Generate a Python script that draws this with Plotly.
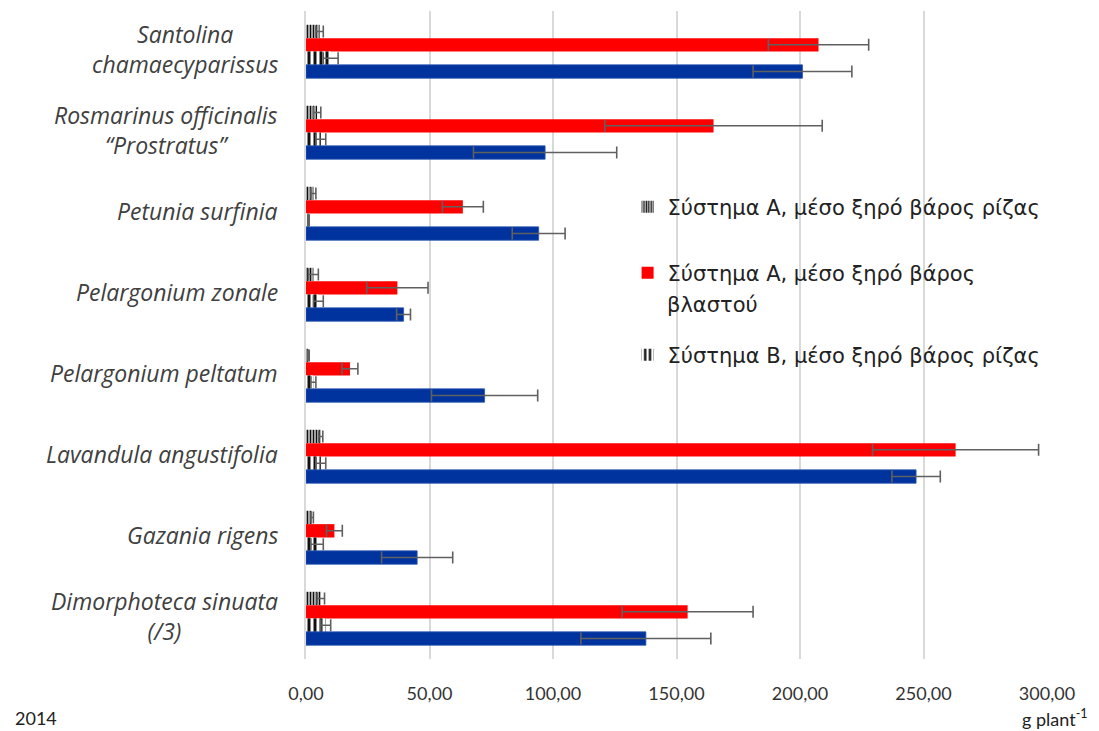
import plotly.graph_objects as go

# Plant species (top to bottom)
species = [
    "Santolina<br>chamaecyparissus",
    "Rosmarinus officinalis<br>“Prostratus”",
    "Petunia surfinia",
    "Pelargonium zonale",
    "Pelargonium peltatum",
    "Lavandula angustifolia",
    "Gazania rigens",
    "Dimorphoteca sinuata<br>(/3)",
]

# Mean dry weight, g plant^-1, with standard errors
a_root = [5.5, 4.5, 3.0, 3.0, 1.0, 6.0, 2.5, 6.0]
a_root_err = [1.5, 1.5, 1.0, 2.0, 0.3, 0.8, 0.5, 1.5]
a_shoot = [207.5, 165.0, 63.5, 37.0, 17.8, 263.0, 11.5, 154.5]
a_shoot_err = [20.3, 44.0, 8.3, 12.4, 3.2, 33.6, 3.2, 26.5]
b_root = [10.0, 6.0, 1.0, 5.0, 3.0, 6.0, 4.5, 8.0]
b_root_err = [3.0, 2.0, 0.3, 2.0, 1.0, 2.0, 2.5, 2.0]
b_shoot = [201.0, 96.8, 94.2, 39.5, 72.3, 247.0, 45.0, 137.6]
b_shoot_err = [20.0, 29.0, 10.7, 2.8, 21.5, 9.8, 14.4, 26.3]

name_a_root = "Σύστημα Α, μέσο ξηρό βάρος ρίζας"
name_a_shoot = "Σύστημα Α, μέσο ξηρό βάρος"
name_a_shoot_2 = "βλαστού"
name_b_root = "Σύστημα Β, μέσο ξηρό βάρος ρίζας"
name_b_shoot = "Σύστημα Β, μέσο ξηρό βάρος βλαστού"

ERR = dict(color="#606060", thickness=1.6, width=6)
LEG_FONT = dict(family="DejaVu Sans", size=21, color="#222222")

fig = go.Figure()
fig.add_trace(go.Bar(
    y=species, x=a_root, orientation="h", name=name_a_root, legend="legend",
    marker=dict(color="#111111", line=dict(width=0),
                pattern=dict(shape="|", fgcolor="#111111", bgcolor="white",
                             size=3, solidity=0.6, fillmode="replace")),
    error_x=dict(type="data", array=a_root_err, **ERR),
))
fig.add_trace(go.Bar(
    y=species, x=a_shoot, orientation="h", name=name_a_shoot, legend="legend2",
    marker=dict(color="#FF0000", line=dict(width=0)),
    error_x=dict(type="data", array=a_shoot_err, **ERR),
))
fig.add_trace(go.Bar(
    y=species, x=b_root, orientation="h", name=name_b_root, legend="legend3",
    marker=dict(color="#111111", line=dict(width=0),
                pattern=dict(shape="|", fgcolor="#111111", bgcolor="white",
                             size=6, solidity=0.5, fillmode="replace")),
    error_x=dict(type="data", array=b_root_err, **ERR),
))
fig.add_trace(go.Bar(
    y=species, x=b_shoot, orientation="h", name=name_b_shoot, showlegend=False,
    marker=dict(color="#00339E", line=dict(width=0.8, color="#2a55b0")),
    error_x=dict(type="data", array=b_shoot_err, **ERR),
))

annotations = []
# Species labels, centred lines, right edge next to the axis
for sp in species:
    annotations.append(dict(
        x=0, y=sp, xref="x", yref="y", text=sp, showarrow=False,
        xanchor="right", yanchor="middle", align="center", xshift=-26, yshift=3,
        font=dict(family="Open Sans", size=23, color="#404040", style="italic"),
    ))
# Second line of the shoot legend entry
annotations.append(dict(
    x=0.484, y=0.5463, xref="paper", yref="paper", text=name_a_shoot_2,
    showarrow=False, xanchor="left", yanchor="middle", font=LEG_FONT,
))
annotations.append(dict(
    x=-0.396, y=-0.091, xref="paper", yref="paper", text="2014",
    showarrow=False, xanchor="left", yanchor="middle",
    font=dict(family="Lato", size=18, color="#222222"),
))
annotations.append(dict(
    x=1.058, y=-0.091, xref="paper", yref="paper", text="g plant<sup>-1</sup>",
    showarrow=False, xanchor="right", yanchor="middle",
    font=dict(family="Lato", size=18, color="#222222"),
))

legend_common = dict(xanchor="left", yanchor="middle", bgcolor="rgba(0,0,0,0)",
                     font=LEG_FONT, itemwidth=30)

fig.update_layout(
    width=1099, height=731,
    margin=dict(l=306, r=52, t=11, b=72),
    barmode="group", bargap=0.34, bargroupgap=0,
    plot_bgcolor="white", paper_bgcolor="white",
    separators=", ",
    xaxis=dict(range=[0, 300], dtick=50, tickformat=".2f",
               showgrid=True, gridcolor="#d9d9d9", gridwidth=1.5,
               zeroline=False, showline=False, ticks="",
               ticklabelstandoff=22,
               tickfont=dict(family="Lato", size=18, color="#333333")),
    yaxis=dict(type="category", autorange="reversed", showticklabels=False,
               showgrid=False, zeroline=False, showline=True,
               linecolor="#d9d9d9", linewidth=1.5, ticks=""),
    legend=dict(x=0.434, y=0.6975, **legend_common),
    legend2=dict(x=0.434, y=0.5957, **legend_common),
    legend3=dict(x=0.434, y=0.469, **legend_common),
    annotations=annotations,
)

fig.write_html("out.html")
